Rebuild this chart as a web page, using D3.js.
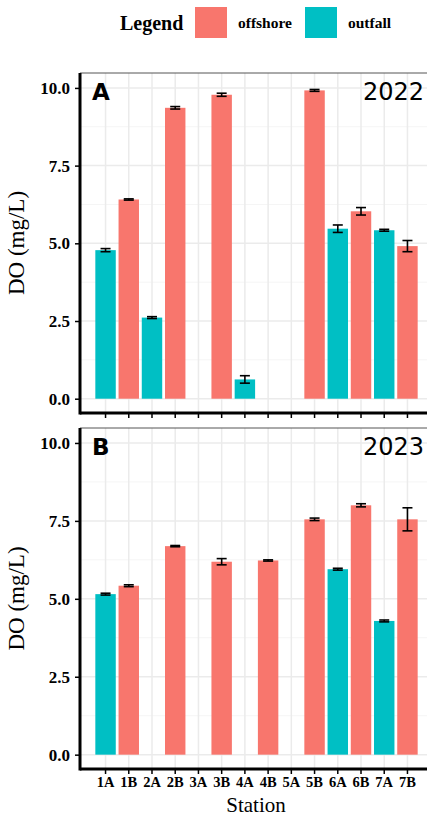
<!DOCTYPE html>
<html>
<head>
<meta charset="utf-8">
<script src="https://cdn.jsdelivr.net/npm/d3@7"></script>
<style>
  body { margin: 0; background: #fff; overflow: hidden; }
  svg { display: block; }
</style>
</head>
<body>
<div id="chart"></div>
<script>
// stations along the x axis
const stations = ["1A", "1B", "2A", "2B", "3A", "3B", "4A", "4B", "5A", "5B", "6A", "6B", "7A", "7B"]
const siteType = ["outfall", "offshore", "outfall", "offshore", "outfall", "offshore", "outfall",
                  "offshore", "outfall", "offshore", "outfall", "offshore", "outfall", "offshore"]

// mean DO (mg/L) and error, null = not sampled
const do2022 = [4.78, 6.41, 2.61, 9.36, null, 9.78, 0.62, null, null, 9.92, 5.47, 6.03, 5.42, 4.91]
const err2022 = [0.05, 0.02, 0.03, 0.04, null, 0.05, 0.12, null, null, 0.03, 0.12, 0.12, 0.03, 0.18]
const do2023 = [5.15, 5.42, null, 6.69, null, 6.19, null, 6.23, null, 7.55, 5.95, 8.00, 4.29, 7.55]
const err2023 = [0.03, 0.03, null, 0.02, null, 0.10, null, 0.02, null, 0.04, 0.03, 0.05, 0.03, 0.37]

const yTicks = [0, 2.5, 5, 7.5, 10]
const types = ["offshore", "outfall"]

const width = 427, height = 817

var svg = d3.select("#chart").append("svg")
    .attr("width", width)
    .attr("height", height)

var color = d3.scaleOrdinal()
    .domain(types)
    .range(["#F8766D", "#00BFC4"])

// x scale shared by both panels, runs past the right edge like the source
var x = d3.scaleBand()
    .domain(stations)
    .range([80, 433])
    .paddingOuter(0.6)
    .paddingInner(0)

const barW = x.bandwidth() * 0.88

// legend
var legend = svg.append("g")
legend.append("text")
    .attr("x", 120).attr("y", 30)
    .style("font-family", "Liberation Serif")
    .style("font-weight", "bold")
    .style("font-size", "20px")
    .text("Legend")
var lx = [195, 305]
types.forEach(function (t, i) {
    legend.append("rect")
        .attr("x", lx[i]).attr("y", 7)
        .attr("width", 32).attr("height", 31)
        .style("fill", color(t))
    legend.append("text")
        .attr("x", lx[i] + 43).attr("y", 28)
        .style("font-family", "Liberation Serif")
        .style("font-weight", "bold")
        .style("font-size", "15.5px")
        .text(t)
})

function panel(top, bottom, values, errs, letter, year, showX) {
    var y = d3.scaleLinear()
        .domain([-0.46, 10.48])
        .range([bottom, top])

    var g = svg.append("g")

    // grid: minor then major
    var minor = d3.range(1.25, 10.1, 2.5)
    g.selectAll(".minor").data(minor).enter().append("line")
        .attr("x1", 80).attr("x2", 433)
        .attr("y1", d => y(d)).attr("y2", d => y(d))
        .style("stroke", "#F2F2F2").style("stroke-width", 0.8)
    g.selectAll(".major").data(yTicks).enter().append("line")
        .attr("x1", 80).attr("x2", 433)
        .attr("y1", d => y(d)).attr("y2", d => y(d))
        .style("stroke", "#EBEBEB").style("stroke-width", 1.5)
    g.selectAll(".vgrid").data(stations).enter().append("line")
        .attr("x1", d => x(d) + x.bandwidth() / 2).attr("x2", d => x(d) + x.bandwidth() / 2)
        .attr("y1", top).attr("y2", bottom)
        .style("stroke", "#EBEBEB").style("stroke-width", 1.5)

    // panel border (top)
    g.append("line")
        .attr("x1", 80).attr("x2", 433)
        .attr("y1", top).attr("y2", top)
        .style("stroke", "#555").style("stroke-width", 1)

    var rows = stations.map(function (s, i) {
        return { st: s, type: siteType[i], v: values[i], e: errs[i] }
    }).filter(d => d.v !== null)

    // bars
    g.selectAll(".bar").data(rows).enter().append("rect")
        .attr("x", d => x(d.st) + (x.bandwidth() - barW) / 2)
        .attr("width", barW)
        .attr("y", d => y(d.v))
        .attr("height", d => y(0) - y(d.v))
        .style("fill", d => color(d.type))

    // error bars
    var cap = 5
    var eb = g.selectAll(".err").data(rows).enter().append("g")
        .style("stroke", "#000").style("stroke-width", 1.6)
    eb.append("line")
        .attr("x1", d => x(d.st) + x.bandwidth() / 2).attr("x2", d => x(d.st) + x.bandwidth() / 2)
        .attr("y1", d => y(d.v - d.e)).attr("y2", d => y(d.v + d.e))
    eb.append("line")
        .attr("x1", d => x(d.st) + x.bandwidth() / 2 - cap).attr("x2", d => x(d.st) + x.bandwidth() / 2 + cap)
        .attr("y1", d => y(d.v - d.e)).attr("y2", d => y(d.v - d.e))
    eb.append("line")
        .attr("x1", d => x(d.st) + x.bandwidth() / 2 - cap).attr("x2", d => x(d.st) + x.bandwidth() / 2 + cap)
        .attr("y1", d => y(d.v + d.e)).attr("y2", d => y(d.v + d.e))

    // y axis
    var yAxis = g.append("g")
        .attr("transform", "translate(80,0)")
        .call(d3.axisLeft(y).tickValues(yTicks).tickFormat(d3.format(".1f")).tickSize(5).tickPadding(5))
    yAxis.select(".domain").remove()
    yAxis.selectAll("line").style("stroke", "#000").style("stroke-width", 1.5)
    yAxis.selectAll("text")
        .style("font-family", "Liberation Serif")
        .style("font-weight", "bold")
        .style("font-size", "17px")
        .style("fill", "#000")

    // x axis
    var xAxis = g.append("g")
        .attr("transform", "translate(0," + bottom + ")")
        .call(d3.axisBottom(x).tickSize(5).tickPadding(3))
    xAxis.select(".domain").remove()
    xAxis.selectAll("line").style("stroke", "#000").style("stroke-width", 1.5)
    if (showX) {
        xAxis.selectAll("text")
            .style("font-family", "Liberation Serif")
            .style("font-weight", "bold")
            .style("font-size", "14.5px")
            .style("fill", "#000")
    } else {
        xAxis.selectAll("text").remove()
    }

    // thick axis lines
    g.append("line")
        .attr("x1", 80).attr("x2", 80)
        .attr("y1", top).attr("y2", bottom + 1.5)
        .style("stroke", "#000").style("stroke-width", 3)
    g.append("line")
        .attr("x1", 80).attr("x2", 433)
        .attr("y1", bottom).attr("y2", bottom)
        .style("stroke", "#000").style("stroke-width", 3)

    // y title
    g.append("text")
        .attr("text-anchor", "middle")
        .attr("transform", "translate(24," + ((top + bottom) / 2) + ") rotate(-90)")
        .style("font-family", "Liberation Serif")
        .style("font-size", "23px")
        .text("DO (mg/L)")

    // panel letter and year
    g.append("text")
        .attr("x", 92).attr("y", top + 27)
        .style("font-family", "DejaVu Sans")
        .style("font-weight", "bold")
        .style("font-size", "23px")
        .text(letter)
    g.append("text")
        .attr("text-anchor", "end")
        .attr("x", 424).attr("y", top + 27)
        .style("font-family", "DejaVu Sans")
        .style("font-size", "24px")
        .text(year)
}

panel(73, 413, do2022, err2022, "A", "2022", false)
panel(428, 769, do2023, err2023, "B", "2023", true)

// x title
svg.append("text")
    .attr("text-anchor", "middle")
    .attr("x", 256)
    .attr("y", 812)
    .style("font-family", "Liberation Serif")
    .style("font-size", "21px")
    .text("Station")
</script>
</body>
</html>
